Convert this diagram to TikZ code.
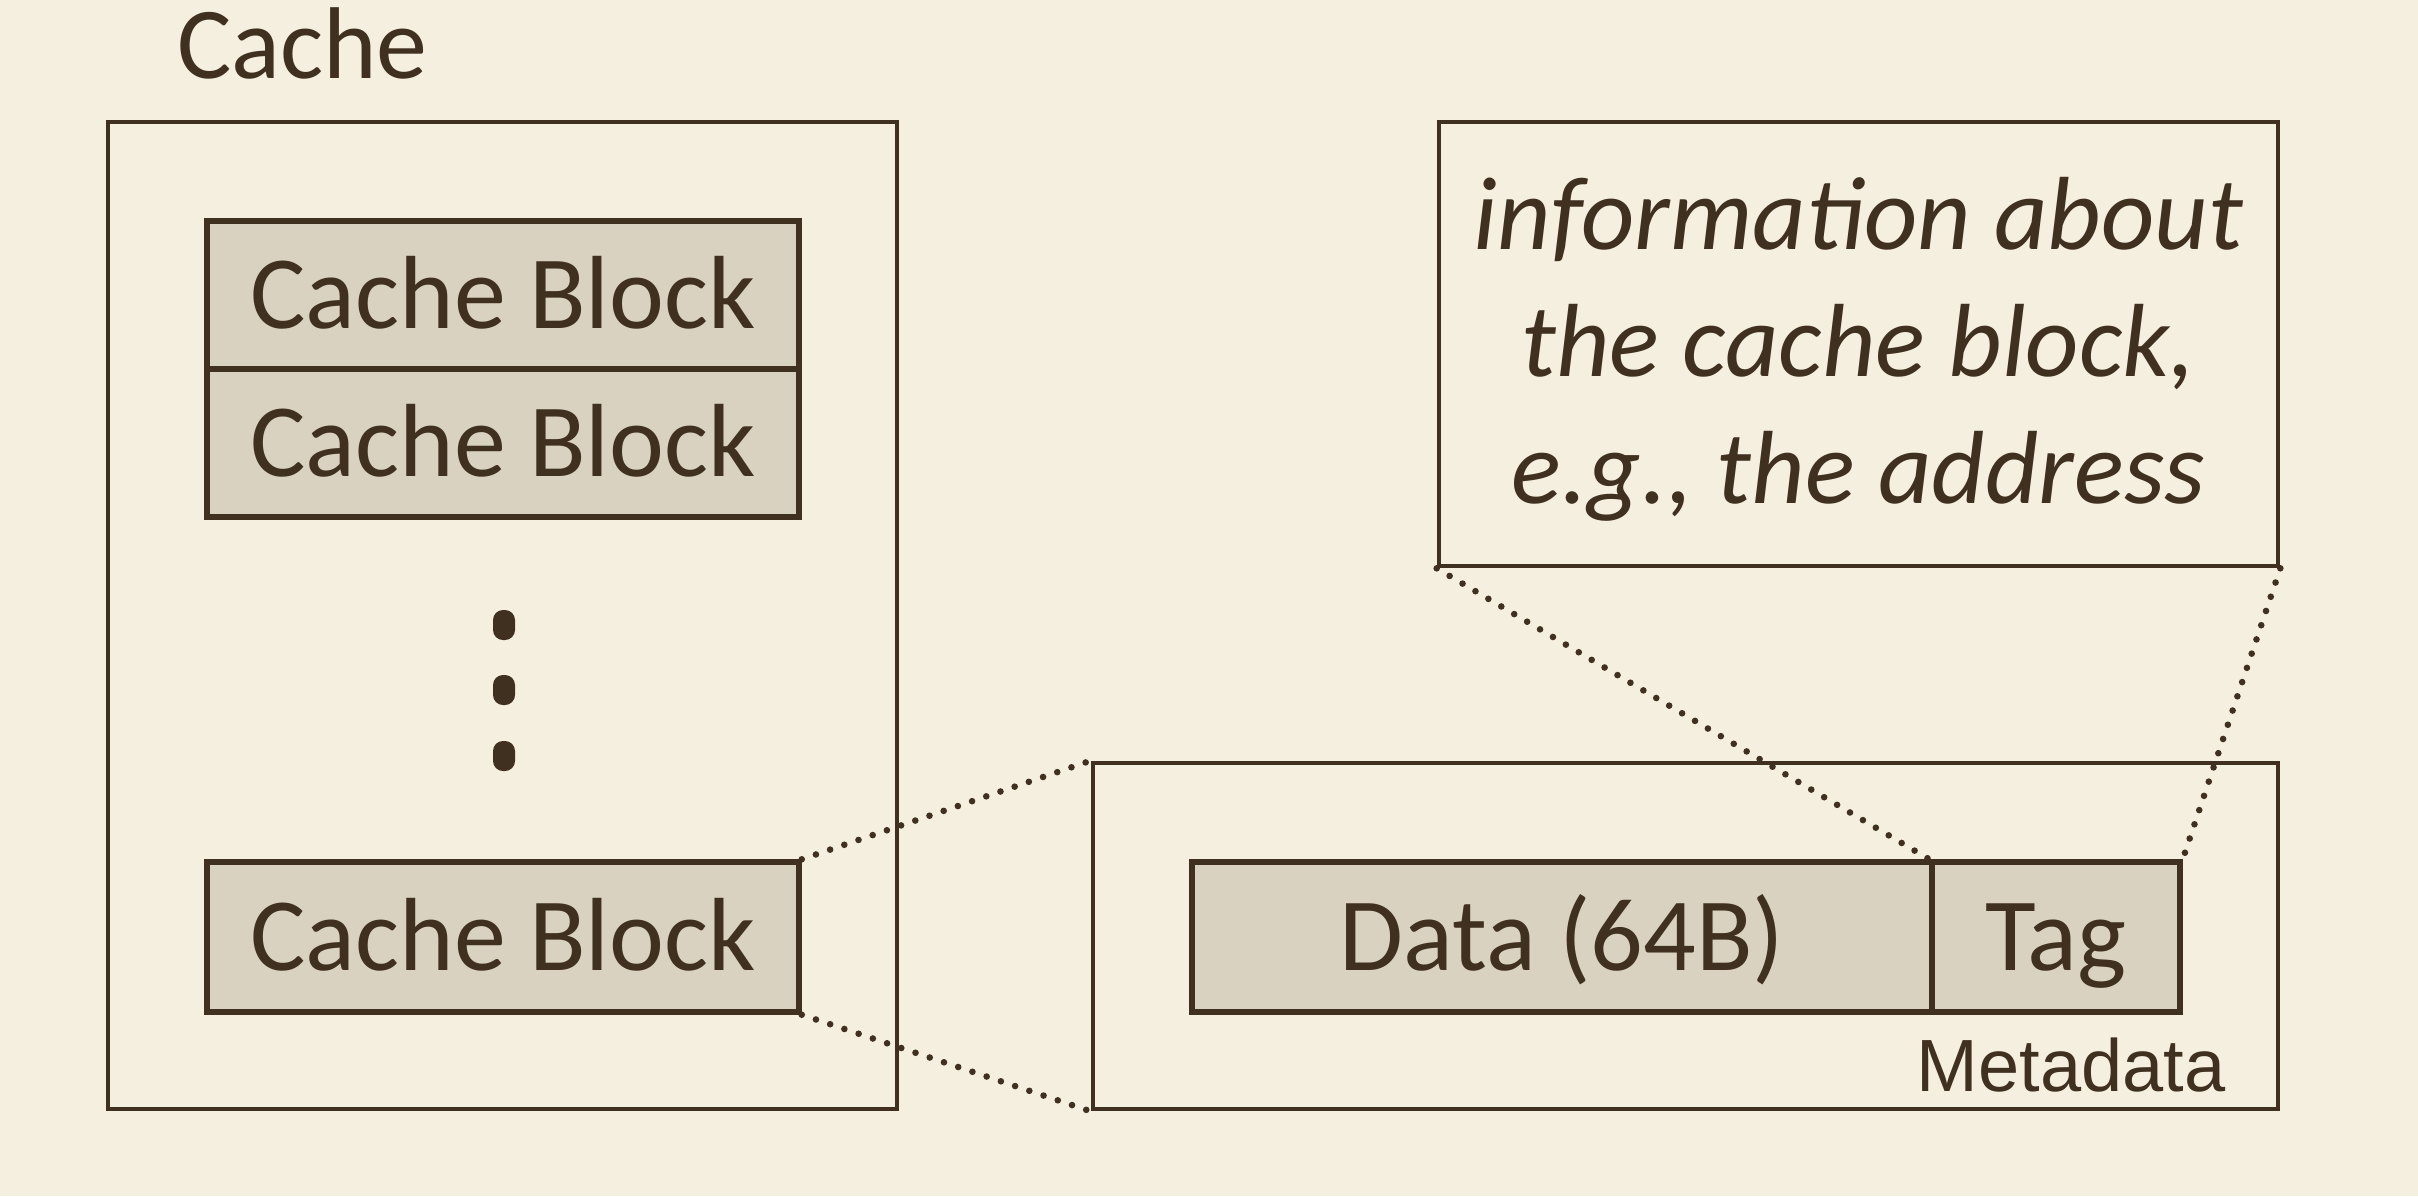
\documentclass[tikz,border=0pt]{standalone}
\usepackage{fontspec}
\setmainfont{Carlito}
\newfontfamily\arialf{Liberation Sans}
\definecolor{bgc}{RGB}{245,239,224}
\definecolor{blockc}{RGB}{217,210,192}
\definecolor{inkc}{RGB}{64,48,32}
\begin{document}
\begin{tikzpicture}[x=0.5pt,y=-0.5pt,
  frame/.style={draw=inkc,line width=2.3pt,rectangle,inner sep=0pt},
  blk/.style={frame,fill=blockc,line width=2.7pt,text=inkc,font=\fontsize{52}{60}\selectfont,text height=33.5pt,text depth=0pt},
  dotted link/.style={draw=inkc,line width=3.3pt,line cap=round,dash pattern=on 0pt off 7.5pt},
  vdot/.style={fill=inkc,rectangle,rounded corners=5pt,minimum width=11pt,minimum height=15pt,inner sep=0pt}]
\fill[bgc] (0,0) rectangle (2418,1196);
\useasboundingbox (0,0) rectangle (2418,1196);
% cache
\node[anchor=base west,text=inkc,font=\fontsize{51}{60}\selectfont] (cachelbl) at (170,78) {Cache};
\node[frame,minimum width=394.5pt,minimum height=493.5pt] (cachebox) at (502.5,615.5) {};
\node[blk,minimum width=296pt,minimum height=74pt] (cb1) at (503,295) {Cache Block};
\node[blk,minimum width=296pt,minimum height=74pt] (cb2) at (503,443) {Cache Block};
\node[vdot] (d1) at (504,625) {};
\node[vdot] (d2) at (504,690) {};
\node[vdot] (d3) at (504,756) {};
\node[blk,minimum width=296pt,minimum height=75pt] (cb3) at (503,937) {Cache Block};
% right box
\node[frame,minimum width=592.5pt,minimum height=173pt] (line) at (1685.5,936) {};
\node[blk,minimum width=370pt,minimum height=75pt] (data) at (1562,937) {Data (64B)};
\node[blk,minimum width=124pt,minimum height=75pt] (tag) at (2056,937) {Tag};
\node[anchor=base,text=inkc,font=\arialf\fontsize{37}{44}\selectfont] (meta) at (2071,1091) {Metadata};
% info
\node[frame,minimum width=419.5pt,minimum height=222pt] (info) at (1858.5,344) {};
\node[align=center,text=inkc,font=\itshape\fontsize{52}{63.5}\selectfont] (infotext) at (1858.5,349) {information about\\the cache block,\\e.g., the address};
% links
\draw[dotted link] (cb3.north east) -- (line.north west);
\draw[dotted link] (cb3.south east) -- (line.south west);
\draw[dotted link] (info.south west) -- (tag.north west);
\draw[dotted link] (info.south east) -- (tag.north east);
\end{tikzpicture}
\end{document}
